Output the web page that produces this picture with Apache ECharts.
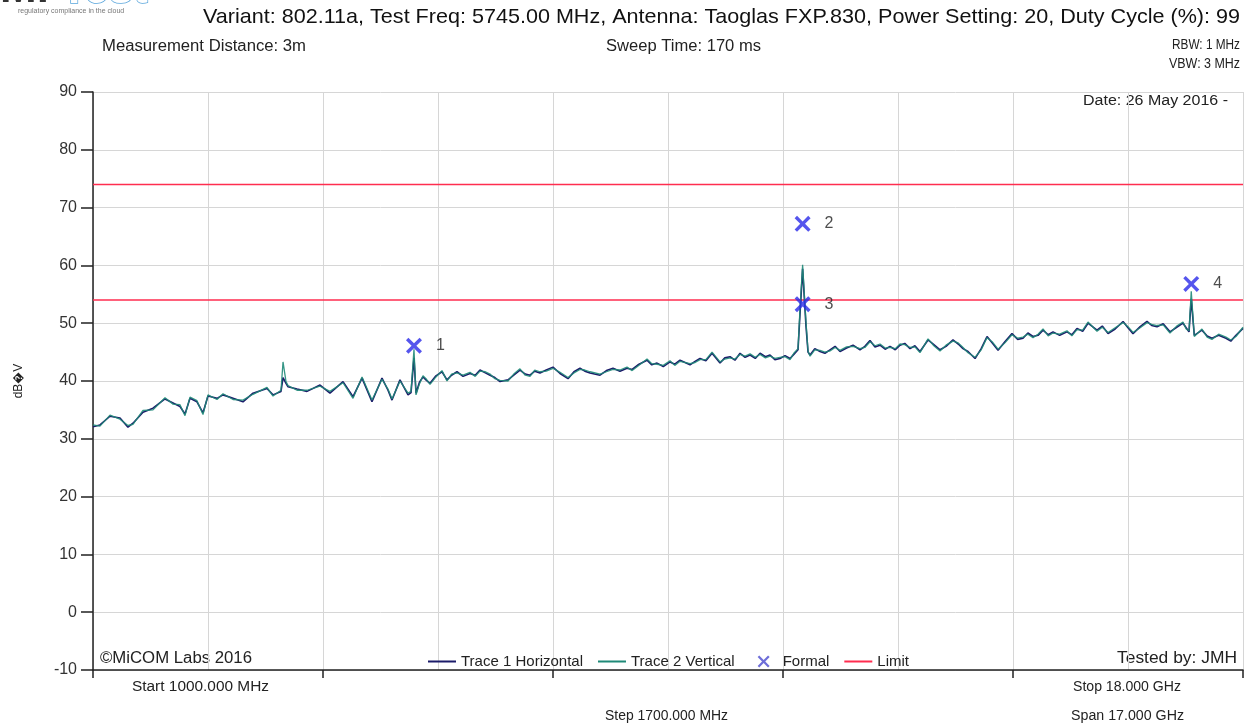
<!DOCTYPE html>
<html>
<head>
<meta charset="utf-8">
<script src="https://cdn.jsdelivr.net/npm/echarts@6/dist/echarts.min.js"></script>
<style>
html,body{margin:0;padding:0;background:#fff;}
#chart{width:1250px;height:726px;}
</style>
</head>
<body>
<div id="chart"></div>
<script>
// ---------- data ----------
const START_MHZ = 1000;
const STOP_MHZ = 18000;
const STEP_MHZ = 1700;
const yTicksMin = -10, yTicksMax = 90, yTickStep = 10;

const traceFreqMHz = [
  1000,1103,1251,1399,1517,1591,1739,1887,2064,2183,2286,2360,2434,2537,2626,2700,2833,2922,3070,3217,
  3365,3572,3661,3779,3809,3853,3883,4016,4164,4356,4503,4696,4844,4977,5124,5272,5361,5420,5538,5657,
  5701,5745,5775,5826,5878,5930,5982,6070,6159,6233,6300,6381,6470,6573,6650,6721,6800,6869,6940,7017,
  7135,7220,7312,7390,7460,7530,7608,7700,7800,7904,8022,8110,8199,8270,8347,8495,8590,8687,8790,8894,
  8970,9057,9190,9260,9338,9430,9530,9600,9678,9826,9900,9973,10060,10151,10269,10340,10417,10490,10565,10640,
  10713,10790,10861,10940,11008,11080,11156,11230,11304,11360,11422,11451,11490,11540,11570,11600,11670,11747,11820,11895,
  11970,12043,12140,12235,12338,12410,12486,12560,12634,12710,12782,12860,12930,13000,13078,13150,13225,13344,13430,13521,
  13610,13713,13790,13861,13935,14039,14130,14216,14300,14379,14480,14585,14670,14748,14820,14896,14970,15044,15120,15192,
  15290,15398,15470,15546,15630,15709,15842,15920,16005,16110,16227,16300,16374,16480,16581,16650,16729,16820,16921,17020,
  17113,17160,17202,17235,17280,17393,17470,17541,17640,17748,17820,17896,18000
];

const trace1Horizontal = [
  32.1,32.4,33.9,33.6,32.0,32.7,34.6,35.3,36.9,36.2,35.6,34.3,37.0,36.4,34.5,37.4,37.0,37.6,37.0,36.4,
  37.9,38.7,37.6,38.2,40.6,39.6,39.0,38.6,38.2,39.3,37.9,39.9,37.3,40.5,36.4,40.5,38.4,36.7,40.2,37.6,
  38.0,44.0,37.9,39.8,40.7,40.1,39.6,40.9,41.6,40.2,41.0,41.6,40.8,41.3,41.0,41.9,41.4,41.0,40.6,39.9,
  40.2,41.0,41.9,41.2,41.0,41.7,41.4,41.9,42.4,41.3,40.4,41.6,42.2,41.7,41.4,41.0,41.8,42.2,41.7,42.2,
  42.0,42.8,43.6,42.8,43.1,42.5,43.3,42.9,43.6,42.8,43.4,43.9,43.5,44.8,43.1,44.0,44.2,43.6,44.8,44.1,
  44.5,43.9,44.8,44.2,44.5,43.7,43.9,44.4,43.9,44.6,45.4,51.5,59.4,49.5,45.0,44.5,45.6,45.1,44.8,45.4,
  46.0,45.1,45.7,46.2,45.4,46.0,47.0,45.9,46.2,45.5,46.0,45.4,46.2,46.5,45.6,46.1,45.1,47.1,46.3,45.4,
  46.0,47.1,46.4,45.6,45.1,43.9,45.6,47.7,46.5,45.3,46.8,48.2,47.2,47.4,48.3,47.7,47.9,48.8,48.0,48.5,
  47.9,48.5,48.0,49.1,48.6,50.0,48.8,49.5,48.2,49.0,50.3,49.2,48.2,49.4,50.3,49.6,49.4,49.9,48.5,49.3,
  50.0,49.2,48.5,54.2,47.9,48.8,47.8,47.4,47.9,47.4,46.9,47.9,49.1
];

const trace2Vertical = [
  32.4,32.2,34.1,33.4,32.3,32.5,34.9,35.0,37.1,36.0,35.9,34.0,37.2,36.6,34.2,37.6,36.8,37.8,36.8,36.7,
  37.7,38.9,37.4,38.4,43.3,39.9,39.2,38.4,38.4,39.1,38.2,39.7,37.0,40.7,36.7,40.3,38.6,36.9,40.0,37.9,
  38.2,45.5,37.6,39.5,40.9,40.3,39.4,40.7,41.8,40.0,41.2,41.4,41.0,41.5,40.8,41.7,41.6,41.2,40.4,40.1,
  40.0,41.2,42.1,41.0,40.8,41.9,41.6,41.7,42.2,41.5,40.6,41.4,42.0,41.9,41.6,41.2,41.6,42.0,41.9,42.4,
  41.8,42.6,43.8,43.0,42.9,42.7,43.5,42.7,43.4,43.0,43.2,43.7,43.7,45.0,43.3,43.8,44.0,43.8,44.6,44.3,
  44.7,44.1,44.6,44.0,44.3,43.9,44.1,44.2,43.7,44.8,45.6,52.4,60.1,50.2,45.2,44.3,45.4,45.3,45.0,45.2,
  45.8,45.3,45.9,46.0,45.6,45.8,46.8,46.1,46.4,45.7,45.8,45.6,46.4,46.3,45.8,45.9,44.9,47.3,46.1,45.2,
  46.2,46.9,46.6,45.8,44.9,44.1,45.4,47.5,46.7,45.5,46.6,48.0,47.4,47.6,48.1,47.5,48.1,49.0,47.8,48.3,
  48.1,48.7,47.8,48.9,48.8,50.2,48.6,49.3,48.4,49.2,50.1,49.4,48.4,49.2,50.1,49.8,49.6,49.7,48.3,49.5,
  50.2,49.0,48.7,55.5,47.7,49.0,47.6,47.2,48.1,47.6,47.1,47.7,49.3
];

const limitLevels = [74, 54];

const formalFreqMHz = [5745, 11490, 11490, 17235];
const formalLevel = [46.1, 67.2, 53.3, 56.8];
const formalNames = ['1', '2', '3', '4'];

const titleText = 'Variant: 802.11a, Test Freq: 5745.00 MHz, Antenna: Taoglas FXP.830, Power Setting: 20, Duty Cycle (%): 99';

// ---------- build ----------
const toPairs = (freqs, vals) => freqs.map((f, i) => [f - START_MHZ, vals[i]]);
const span = STOP_MHZ - START_MHZ;

const FONT = '"Liberation Sans", Arial, sans-serif';
const xPath = 'path://M0,3 L3,0 L10,7 L17,0 L20,3 L13,10 L20,17 L17,20 L10,13 L3,20 L0,17 L7,10 Z';
const legendLineIcon = 'path://M0,0H0.01V0.01H0Z M0,6H28V8H0Z M27.99,13.99H28V14H27.99Z';
const legendXIcon = 'path://M0,0H0.01V0.01H0Z M8,2.6L9.6,1L14,5.4L18.4,1L20,2.6L15.6,7L20,11.4L18.4,13L14,8.6L9.6,13L8,11.4L12.4,7Z M27.99,13.99H28V14H27.99Z';

const TRACE1 = '#1c1c6a', TRACE2 = '#1f8a78', LIMIT = '#ff2d4f', FORMAL = '#2b2be8';

// text helper: font size + target width (horizontal scale to fit the reference box)
const measureCtx = document.createElement('canvas').getContext('2d');
function txt(text, x, y, size, align, width, fill) {
  measureCtx.font = size + 'px "Liberation Sans"';
  const w = measureCtx.measureText(text).width;
  const sx = width ? width / w : 1;
  return {
    type: 'text', x: x, y: y, scaleX: sx, scaleY: 1,
    style: { text: text, fontSize: size, fill: fill || '#222', fontFamily: FONT, textAlign: align, textVerticalAlign: 'middle', verticalAlign: 'middle', align: align }
  };
}

const limitSeries = limitLevels.map(v => ({
  name: 'Limit', type: 'line', symbol: 'none', silent: true,
  data: [[0, v], [span, v]],
  lineStyle: { color: LIMIT, width: 1.5 }, itemStyle: { color: LIMIT },
  z: 3
}));

const option = {
  backgroundColor: '#ffffff',
  animation: false,
  textStyle: { fontFamily: FONT },
  grid: { left: 93, right: 7, top: 92, bottom: 56, containLabel: false },
  legend: {
    left: 423, top: 649, itemWidth: 28, itemHeight: 14, itemGap: 15,
    textStyle: { fontSize: 15, color: '#222', fontFamily: FONT },
    data: [
      { name: 'Trace 1 Horizontal', icon: legendLineIcon, itemStyle: { color: TRACE1 } },
      { name: 'Trace 2 Vertical', icon: legendLineIcon, itemStyle: { color: TRACE2 } },
      { name: 'Formal', icon: legendXIcon, itemStyle: { color: '#4a4ad0' } },
      { name: 'Limit', icon: legendLineIcon, itemStyle: { color: LIMIT } }
    ]
  },
  xAxis: [
    {
      type: 'value', min: 0, max: span, interval: STEP_MHZ,
      axisLine: { show: true, onZero: false, lineStyle: { color: '#222', width: 1.5 } },
      axisTick: { show: false }, axisLabel: { show: false },
      splitLine: { show: true, lineStyle: { color: '#d6d6d6', width: 1 } }
    },
    {
      type: 'value', min: 0, max: span, interval: STEP_MHZ * 2, position: 'bottom',
      axisLine: { show: false, onZero: false },
      axisTick: { show: true, inside: false, length: 8, lineStyle: { color: '#222', width: 1.5 } },
      axisLabel: { show: false }, splitLine: { show: false }
    }
  ],
  yAxis: {
    type: 'value', min: yTicksMin, max: yTicksMax, interval: yTickStep,
    name: 'dB\uFFFDV', nameLocation: 'middle', nameGap: 68, nameRotate: 90,
    nameTextStyle: { fontSize: 12, color: '#222', fontFamily: FONT },
    axisLine: { show: true, lineStyle: { color: '#222', width: 1.5 } },
    axisTick: { show: true, length: 12, lineStyle: { color: '#222', width: 1.5 } },
    axisLabel: { fontSize: 16, color: '#333', margin: 16, fontFamily: FONT },
    splitLine: { show: true, lineStyle: { color: '#d6d6d6', width: 1 } }
  },
  series: [
    {
      name: 'Trace 1 Horizontal', type: 'line', symbol: 'none', xAxisIndex: 0,
      data: toPairs(traceFreqMHz, trace1Horizontal),
      lineStyle: { color: TRACE1, width: 1.6 }, itemStyle: { color: TRACE1 }, z: 4
    },
    {
      name: 'Trace 2 Vertical', type: 'line', symbol: 'none', xAxisIndex: 0,
      data: toPairs(traceFreqMHz, trace2Vertical),
      lineStyle: { color: TRACE2, width: 1.3, opacity: 0.9 }, itemStyle: { color: TRACE2 }, z: 5
    },
    ...limitSeries,
    {
      name: 'Formal', type: 'scatter', symbol: xPath, symbolSize: 16, xAxisIndex: 0,
      data: toPairs(formalFreqMHz, formalLevel),
      itemStyle: { color: FORMAL },
      label: {
        show: true, position: 'right', distance: 14,
        formatter: p => formalNames[p.dataIndex],
        fontSize: 16, color: '#222', fontFamily: FONT
      },
      z: 6
    }
  ],
  graphic: [
    { type: 'text', left: 0, top: -32, style: { text: 'Mi', fontSize: 44, fontWeight: 'bold', fill: '#333', fontFamily: FONT } },
    { type: 'text', left: 60, top: -32, style: { text: 'Test', fontSize: 44, fontWeight: 'bold', fill: '#ffffff', stroke: '#5aa6dc', lineWidth: 1.5, fontFamily: FONT } },
    { type: 'text', left: 18, top: 8, style: { text: 'regulatory compliance in the cloud', fontSize: 7, fill: '#777', fontFamily: FONT } },
    txt(titleText, 1240, 17, 21, 'right', 1037, '#111'),
    txt('Measurement Distance: 3m', 102, 47, 16, 'left', 204),
    txt('Sweep Time: 170 ms', 606, 47, 16, 'left', 155),
    txt('RBW: 1 MHz', 1240, 45, 15, 'right', 68),
    txt('VBW: 3 MHz', 1240, 64, 15, 'right', 71),
    txt('Date: 26 May 2016 -', 1228, 101, 15.5, 'right', 145),
    txt('\u00A9MiCOM Labs 2016', 100, 659, 16, 'left', 152),
    txt('Tested by: JMH', 1237, 659, 16, 'right', 120),
    txt('Start 1000.000 MHz', 132, 687, 14, 'left', 137),
    txt('Stop 18.000 GHz', 1073, 687, 14, 'left', 108),
    txt('Step 1700.000 MHz', 605, 716, 14, 'left', 123),
    txt('Span 17.000 GHz', 1071, 716, 14, 'left', 113)
  ]
};

const chart = echarts.init(document.getElementById('chart'), null, { renderer: 'canvas' });
chart.setOption(option);
</script>
</body>
</html>
